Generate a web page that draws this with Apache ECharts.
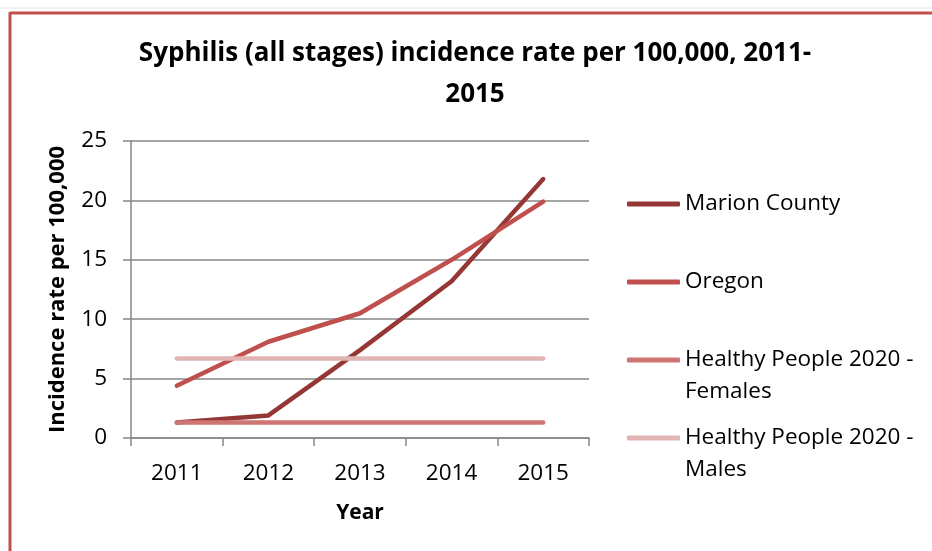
<!DOCTYPE html>
<html>
<head>
<meta charset="utf-8">
<script src="https://cdn.jsdelivr.net/npm/echarts@6/dist/echarts.min.js"></script>
<style>
  html, body { margin: 0; padding: 0; background: #fff; }
  #chart { width: 932px; height: 551px; }
</style>
</head>
<body>
<div id="chart"></div>
<script>
// Syphilis incidence rate per 100,000 by year
const years = ['2011', '2012', '2013', '2014', '2015'];
const marionCounty = [1.3, 1.9, 7.4, 13.2, 21.8];
const oregon = [4.4, 8.1, 10.5, 15.0, 19.9];
const hp2020Females = [1.3, 1.3, 1.3, 1.3, 1.3];
const hp2020Males = [6.7, 6.7, 6.7, 6.7, 6.7];
const seriesNames = ['Marion County', 'Oregon', 'Healthy People 2020 - Females', 'Healthy People 2020 - Males'];
const yTicks = { min: 0, max: 25, interval: 5 };

const colors = ['#953735', '#C0504D', '#CF7573', '#E2B5B4'];
const FONT = 'Open Sans';
const axisGray = '#868686';

const chart = echarts.init(document.getElementById('chart'), null, { renderer: 'canvas' });

const seriesData = [marionCounty, oregon, hp2020Females, hp2020Males];

function makeSeries(i) {
  return {
    name: seriesNames[i],
    type: 'line',
    data: seriesData[i],
    showSymbol: false,
    symbol: 'none',
    color: colors[i],
    lineStyle: { color: colors[i], width: 4.5, cap: 'round', join: 'round' },
    emphasis: { disabled: true },
    z: 2 + i
  };
}

// one legend per entry so each can sit at its own height;
// wrapped entries get a blank leading line so the swatch lines up with the first row
const legendTops = [188, 266, 312, 390];
function makeLegend(i) {
  return {
    data: [seriesNames[i]],
    left: 627,
    top: legendTops[i],
    padding: 0,
    icon: 'roundRect',
    itemWidth: 53,
    itemHeight: 5,
    itemGap: 0,
    selectedMode: false,
    formatter: function (name) {
      return name.indexOf(' - ') >= 0 ? '\n' + name.replace(' - ', ' -\n') : name;
    },
    textStyle: {
      fontFamily: FONT,
      fontSize: 22.5,
      color: '#000',
      lineHeight: 32
    }
  };
}

const option = {
  backgroundColor: '#fff',
  animation: false,
  title: {
    text: 'Syphilis (all stages) incidence rate per 100,000, 2011-\n2015',
    left: 475,
    top: 33,
    textAlign: 'center',
    padding: 0,
    textStyle: {
      fontFamily: FONT,
      fontWeight: 'bold',
      fontSize: 26,
      lineHeight: 41,
      color: '#000'
    }
  },
  legend: [0, 1, 2, 3].map(makeLegend),
  grid: { left: 131, right: 343, top: 141, bottom: 113, containLabel: false },
  xAxis: {
    type: 'category',
    data: years,
    boundaryGap: true,
    name: 'Year',
    nameLocation: 'middle',
    nameGap: 65,
    nameTextStyle: { fontFamily: FONT, fontWeight: 'bold', fontSize: 21, color: '#000' },
    axisLine: { lineStyle: { color: axisGray, width: 1.5 } },
    axisTick: { show: true, alignWithLabel: false, length: 8, lineStyle: { color: axisGray, width: 1.5 } },
    axisLabel: { margin: 24, fontFamily: FONT, fontSize: 22.5, color: '#000' },
    splitLine: { show: false }
  },
  yAxis: {
    type: 'value',
    min: yTicks.min,
    max: yTicks.max,
    interval: yTicks.interval,
    name: 'Incidence rate per 100,000',
    nameLocation: 'middle',
    nameGap: 62,
    nameTextStyle: { fontFamily: FONT, fontWeight: 'bold', fontSize: 22, color: '#000' },
    axisLine: { show: true, lineStyle: { color: axisGray, width: 1.5 } },
    axisTick: { show: true, length: 8, lineStyle: { color: axisGray, width: 1.5 } },
    axisLabel: { margin: 24, fontFamily: FONT, fontSize: 22.5, color: '#000' },
    splitLine: { show: true, lineStyle: { color: axisGray, width: 1.5 } }
  },
  graphic: [
    // frame around the chart area
    { type: 'line', silent: true, shape: { x1: 0, y1: 8, x2: 932, y2: 8 }, style: { stroke: '#e4e4e4', lineWidth: 1 } },
    { type: 'line', silent: true, shape: { x1: 10, y1: 13, x2: 932, y2: 13 }, style: { stroke: '#C0504D', lineWidth: 3 } },
    { type: 'line', silent: true, shape: { x1: 10, y1: 12, x2: 10, y2: 551 }, style: { stroke: '#C0504D', lineWidth: 3 } }
  ],
  series: [0, 1, 2, 3].map(makeSeries)
};

chart.setOption(option);
</script>
</body>
</html>
